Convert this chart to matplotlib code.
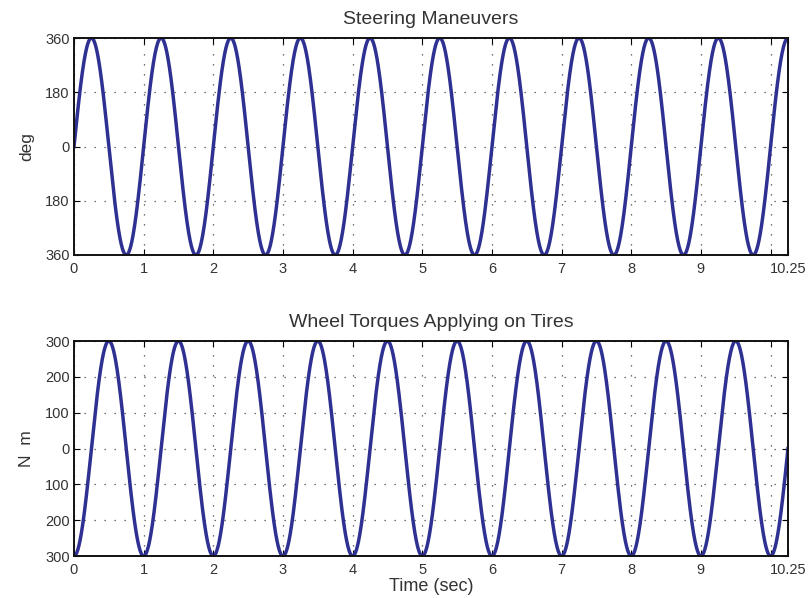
import numpy as np
import matplotlib
matplotlib.use("Agg")
import matplotlib.pyplot as plt

# --- data ---
t_end = 10.25
steer_amplitude = 360.0      # deg
steer_freq = 1.0             # Hz, starts at 0 rising (sine)
torque_amplitude = 300.0     # N m
torque_freq = 1.0            # Hz, starts at minimum (-cosine)

x_ticks = [0, 1, 2, 3, 4, 5, 6, 7, 8, 9, 10, 10.25]
x_ticklabels = ["0", "1", "2", "3", "4", "5", "6", "7", "8", "9", "", "10.25"]
steer_yticks = [-360, -180, 0, 180, 360]
steer_yticklabels = ["360", "180", "0", "180", "360"]
torque_yticks = [-300, -200, -100, 0, 100, 200, 300]
torque_yticklabels = ["300", "200", "100", "0", "100", "200", "300"]

t = np.linspace(0, t_end, 4000)
steer = steer_amplitude * np.sin(2 * np.pi * steer_freq * t)
torque = -torque_amplitude * np.cos(2 * np.pi * torque_freq * t)

plt.rcParams['font.family'] = ['Liberation Sans', 'DejaVu Sans']
line_color = '#2e3192'
text_color = '#333333'

fig = plt.figure(figsize=(8.08, 5.98), dpi=100)
W, H = 808, 598
ax1 = fig.add_axes([74 / W, 1 - 255 / H, (788 - 74) / W, (255 - 38) / H])
ax2 = fig.add_axes([74 / W, 1 - 556 / H, (788 - 74) / W, (556 - 341) / H])

def style(ax, yt, ytl):
    ax.set_xlim(0, t_end)
    ax.set_xticks(x_ticks)
    ax.set_xticklabels(x_ticklabels)
    ax.set_yticks(yt)
    ax.set_yticklabels(ytl)
    ax.set_ylim(yt[0], yt[-1])
    ax.grid(True, linestyle=(0, (1, 7)), color='#444444', linewidth=0.9)
    ax.tick_params(direction='in', length=4, width=0.8, labelsize=10.5,
                   labelcolor=text_color, top=True, right=True, pad=3)
    ax.tick_params(axis='x', pad=5)
    for s in ax.spines.values():
        s.set_linewidth(1.4)
        s.set_color('#111111')

ax1.plot(t, steer, color=line_color, linewidth=2.5)
style(ax1, steer_yticks, steer_yticklabels)
ax1.set_title("Steering Maneuvers", fontsize=14, color=text_color, pad=10)
ax1.set_ylabel("deg", fontsize=12.5, color=text_color, labelpad=8)

ax2.plot(t, torque, color=line_color, linewidth=2.5)
style(ax2, torque_yticks, torque_yticklabels)
ax2.set_title("Wheel Torques Applying on Tires", fontsize=14, color=text_color, pad=10)
ax2.set_ylabel("N  m", fontsize=12.5, color=text_color, labelpad=8)
ax2.set_xlabel("Time (sec)", fontsize=13, color=text_color, labelpad=1)

fig.savefig("out.png", dpi=100)
